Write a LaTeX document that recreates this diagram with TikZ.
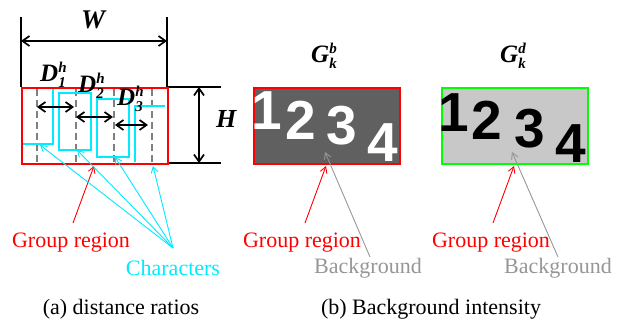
\documentclass[tikz,border=0pt]{standalone}
\usepackage{fontspec}
\setmainfont{Liberation Serif}
\newfontfamily\digitfont{Liberation Sans}
\usetikzlibrary{arrows.meta}
\definecolor{cyanc}{RGB}{0,235,255}
\definecolor{darkfill}{RGB}{96,96,96}
\definecolor{lightfill}{RGB}{200,200,200}
\definecolor{bgtext}{RGB}{150,150,150}
\definecolor{guidegray}{RGB}{128,128,128}
\newcommand\suplbl[3]{{\fontsize{25}{25}\selectfont\bfseries\itshape #1\makebox[0pt][l]{\raisebox{9pt}{\fontsize{15}{15}\selectfont\bfseries\itshape #2}}\raisebox{-6pt}{\fontsize{15}{15}\selectfont\bfseries #3}}}
\begin{document}
\begin{tikzpicture}[x=1pt,y=-1pt,
  dimline/.style={line width=1.7pt},
  dimarrow/.style={line width=1.7pt,{Straight Barb[length=7pt,width=10pt]}-{Straight Barb[length=7pt,width=10pt]}},
  charline/.style={draw=cyanc,line width=2pt},
  grpbox/.style={line width=2pt},
  guideline/.style={draw=guidegray,line width=1.8pt,dash pattern=on 7pt off 4pt},
  notearrow/.style={line width=0.9pt,-{Straight Barb[length=6pt,width=7pt]}},
  lbl/.style={font=\fontsize{22}{22}\selectfont,inner sep=0pt},
  dig/.style={font=\fontsize{55}{55}\digitfont\bfseries,inner sep=0pt,anchor=base},
  txtlbl/.style={inner sep=0pt,anchor=base west}]
\useasboundingbox (0,0) rectangle (624,320);

% ---------- (a) ----------
\coordinate (wl) at (21,17); \coordinate (wr) at (167,17);
\draw[dimline] (wl) -- (21,87);
\draw[dimline] (wr) -- (167,87);
\draw[dimarrow] (21,41) -- (167,41);
\node[txtlbl] (W) at (81,29) {\fontsize{27}{27}\selectfont\bfseries\itshape W};

\draw[dimline] (168,87) -- (221,87);
\draw[dimline] (168,163) -- (221,163);
\draw[dimarrow] (199,87) -- (199,163);
\node[txtlbl] (H) at (216,128) {\fontsize{26}{26}\selectfont\bfseries\itshape H};

% dashed guides
\foreach \x/\n in {37/g1,76/g2,114/g3,152/g4}
  \draw[guideline] (\x,89) -- (\x,163);

% characters
\draw[charline] (53,88) -- (53,144) -- (22,144);
\draw[charline] (59,93) rectangle (91,150);
\draw[charline] (97,99) rectangle (129,157);
\draw[charline] (135,162) -- (135,106) -- (165,106);

% group box
\node[grpbox,draw=red,minimum width=146pt,minimum height=76pt,inner sep=0pt,anchor=north west] (boxa) at (21,87) {};

% distance arrows
\draw[dimarrow] (37,107) -- (74,107);
\draw[dimarrow] (76,117) -- (113,117);
\draw[dimarrow] (115,125) -- (148,125);

\node[txtlbl] (D1) at (40,82) {\suplbl{D}{h}{1}};
\node[txtlbl] (D2) at (78,93) {\suplbl{D}{h}{2}};
\node[txtlbl] (D3) at (117,106) {\suplbl{D}{h}{3}};

% notes
\node[lbl,text=red] (gra) at (71,243) {Group region};
\node[lbl,text=cyanc] (chars) at (173,268) {Characters};
\coordinate (ra0) at (73,223); \coordinate (ra1) at (94,166);
\draw[notearrow,red] (ra0) -- (ra1);
\coordinate (cc) at (173,248);
\coordinate (c1) at (40,145); \coordinate (c2) at (77,150);
\coordinate (c3) at (115,157); \coordinate (c4) at (153,166);
\foreach \c in {c1,c2,c3,c4} \draw[notearrow,cyanc] (cc) -- (\c);

\node[lbl] (capa) at (121,309) {(a) distance ratios};

% ---------- (b) ----------
\node[txtlbl] (Gb) at (311,63) {\suplbl{G}{b}{\itshape k}};
\node[txtlbl] (Gd) at (500,63) {\suplbl{G}{d}{\itshape k}};

\node[draw=red,fill=darkfill,line width=2pt,minimum width=146pt,minimum height=76pt,inner sep=0pt,anchor=north west] (boxb) at (253,87) {};
\node[dig,text=white] (b1) at (267,130) {1};
\node[dig,text=white] (b2) at (301,140) {2};
\node[dig,text=white] (b3) at (342,145) {3};
\node[dig,text=white] (b4) at (383,162) {4};

\node[draw=green,fill=lightfill,line width=2pt,minimum width=146pt,minimum height=76pt,inner sep=0pt,anchor=north west] (boxd) at (441,87) {};
\node[dig,text=black] (d1) at (454,132) {1};
\node[dig,text=black] (d2) at (487,140) {2};
\node[dig,text=black] (d3) at (530,148) {3};
\node[dig,text=black] (d4) at (571,163) {4};

\node[lbl,text=red] (grb) at (302,243) {Group region};
\node[lbl,text=bgtext] (bgb) at (368,268) {Background};
\node[lbl,text=red] (grd) at (491,243) {Group region};
\node[lbl,text=bgtext] (bgd) at (558,268) {Background};

\coordinate (rb0) at (305,223); \coordinate (rb1) at (326,166);
\coordinate (rd0) at (493,223); \coordinate (rd1) at (514,166);
\draw[notearrow,red] (rb0) -- (rb1);
\draw[notearrow,red] (rd0) -- (rd1);
\coordinate (gb0) at (370,257); \coordinate (gb1) at (325,152);
\coordinate (gd0) at (558,257); \coordinate (gd1) at (512,152);
\draw[notearrow,bgtext] (gb0) -- (gb1);
\draw[notearrow,bgtext] (gd0) -- (gd1);

\node[lbl] (capb) at (431,309) {(b) Background intensity};
\end{tikzpicture}
\end{document}
